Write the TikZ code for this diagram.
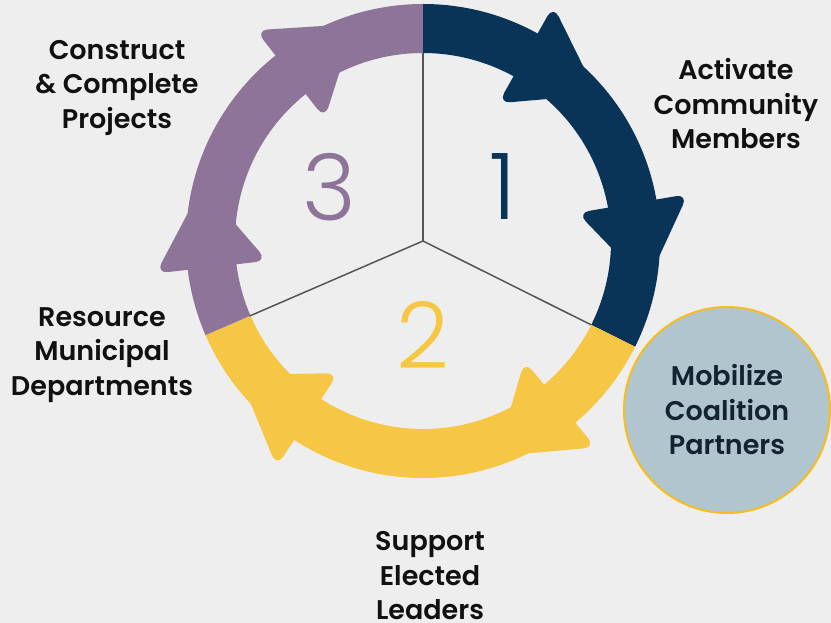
\documentclass[tikz,border=0pt]{standalone}
\usepackage{fontspec}
\setmainfont{Poppins}[BoldFont={Poppins SemiBold}]
\newfontfamily\numfont{Poppins Light}
\usepackage{tikz}
\usetikzlibrary{shapes,positioning}
\definecolor{bgcolor}{HTML}{EEEEEE}
\definecolor{ringnavy}{HTML}{0A3457}
\definecolor{ringpurple}{HTML}{8E7499}
\definecolor{ringyellow}{HTML}{F6C744}
\definecolor{spokegray}{HTML}{555555}
\definecolor{labelblack}{HTML}{111111}
\definecolor{partnerfill}{HTML}{B1C5CE}
\definecolor{partnerdraw}{HTML}{F5BD1F}
\definecolor{partnertext}{HTML}{13232F}
\tikzset{
    %Define style for the stage labels
    stagelabel/.style={
           text=labelblack,
           align=center,
           font=\fontsize{27}{34.5}\selectfont\bfseries},
    %Define style for the big numbers
    stagenum/.style={
           font=\fontsize{92}{92}\selectfont\numfont},
    % Define style for the spokes
    spoke/.style={
           draw=spokegray,
           line width=1.5pt},
    % Define style for the partner circle
    partner/.style={
           circle,
           fill=partnerfill,
           draw=partnerdraw,
           line width=2pt,
           minimum size=206pt,
           inner sep=0pt,
           text=partnertext,
           align=center,
           font=\fontsize{27}{34.5}\selectfont\bfseries}
}

\begin{document}
\begin{tikzpicture}[x=1pt, y=1pt]
    \fill[bgcolor] (-423,-382) rectangle (408,241);
    \useasboundingbox (-423,-382) rectangle (408,241);

    % ring segments
    \fill[ringnavy] (90:237) arc[start angle=90, end angle=-26.5, radius=237]
        -- (-26.5:188) arc[start angle=-26.5, end angle=90, radius=188] -- cycle;
    \fill[ringyellow] (-26.5:237) arc[start angle=-26.5, end angle=-156.6, radius=237]
        -- (-156.6:188) arc[start angle=-156.6, end angle=-26.5, radius=188] -- cycle;
    \fill[ringpurple] (203.4:237) arc[start angle=203.4, end angle=90, radius=237]
        -- (90:188) arc[start angle=90, end angle=203.4, radius=188] -- cycle;

    % arrow heads on the ring
    \foreach \ang/\col in {60.6/ringnavy, 9.6/ringnavy, -50.5/ringyellow,
                           -123.4/ringyellow, 186.5/ringpurple, 128/ringpurple}
        \fill[\col, rounded corners=12pt, shift={(\ang:213)}, rotate=\ang-90]
            (-2,56) -- (80,0) -- (-2,-56) -- cycle;

    % spokes
    \coordinate (hub) at (0,0);
    \coordinate (top end) at (90:188);
    \coordinate (right end) at (-26.5:188);
    \coordinate (left end) at (203.4:189);
    \draw[spoke] (hub) -- (top end);
    \draw[spoke] (hub) -- (right end);
    \draw[spoke] (hub) -- (left end);

    % numbers
    \node[stagenum, text=ringnavy] (one) at (80,54) {1};
    \node[stagenum, text=ringyellow] (two) at (0,-94) {2};
    \node[stagenum, text=ringpurple] (three) at (-94,54) {3};

    % labels
    \node[stagelabel] (activate) at (313,137) {Activate\\Community\\Members};
    \node[stagelabel] (support) at (7,-335) {Support\\Elected\\Leaders};
    \node[stagelabel] (resource) at (-321,-114) {Resource\\Municipal\\Departments};
    \node[stagelabel] (construct) at (-306,153) {Construct\\\& Complete\\Projects};
    \node[partner] (mobilize) at (304,-169) {Mobilize\\Coalition\\Partners};
\end{tikzpicture}
\end{document}
